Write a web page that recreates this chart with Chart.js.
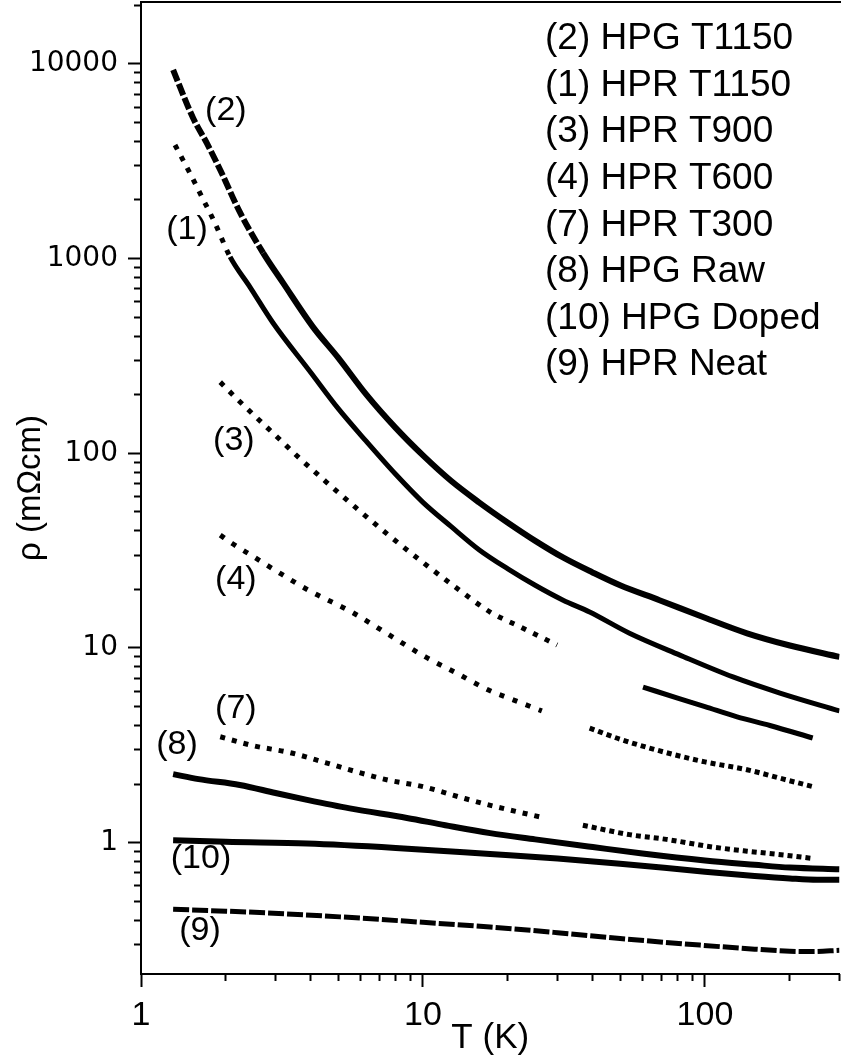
<!DOCTYPE html>
<html><head><meta charset="utf-8">
<script src="https://cdn.jsdelivr.net/npm/chart.js@4.4.1/dist/chart.umd.min.js"></script>
<style>html,body{margin:0;padding:0;background:#fff}#wrap{width:841px;height:1059px}</style>
</head><body><div id="wrap"><canvas id="c" width="841" height="1059"></canvas></div>
<script>
// ---- data (T in K, rho in mOhm cm) ----
const T_HPG1150 = [1.30, 1.53, 1.71, 1.91, 2.24, 2.71, 3.19, 4.07, 5.0, 6.3, 8.0, 10, 12.6, 15.8, 20, 25.1, 31.6, 39.8, 50, 69, 100, 141, 200, 300];
const R_HPG1150 = [9300, 5275, 3925, 2850, 1735, 1070, 750, 446, 310, 200, 135, 97.5, 72, 56, 44, 35.4, 29, 24.5, 21, 17.6, 14.3, 11.9, 10.3, 9.0];

const T_HPR1150 = [1.32, 1.49, 1.645, 1.83, 2.07, 2.435, 2.94, 4.0, 5.0, 6.3, 8.0, 10, 12.6, 15.8, 20, 25, 31.4, 39, 54, 81.5, 125.7, 184.5, 300];
const R_HPR1150 = [3830, 2750, 2070, 1520, 1020, 714, 467, 260, 170, 115, 78, 56, 42, 32, 25.5, 21, 17.6, 15.3, 11.9, 9.19, 7.1, 5.87, 4.75];

const T_HPR900 = [1.91, 2.2, 2.6, 3.1, 3.66, 4.5, 5.74, 7.5, 10, 13, 17.3, 22, 29.9, 45, 60.3, 80, 100, 130, 170, 241];
const R_HPR900 = [232, 189, 150, 118, 94, 72, 53, 38.3, 27.5, 20.6, 15.3, 12.9, 10.35, null, 6.3, 5.53, 5.0, 4.43, 4.0, 3.45];

const T_HPR600 = [1.91, 2.1, 2.5, 3, 4, 5.5, 7.5, 10.2, 13, 17, 21, 26.4, 33, 39, 50, 73, 100, 141, 190, 241];
const R_HPR600 = [38, 34.5, 29.5, 25, 19.5, 15.5, 11.8, 9.0, 7.5, 6.1, 5.4, 4.75, null, 3.88, 3.4, 2.9, 2.6, 2.37, 2.12, 1.94];

const T_HPR300 = [1.91, 2.5, 3.38, 4.5, 5.83, 7.5, 10, 13.8, 16.9, 20, 26.4, 31, 36.9, 54, 73, 106.7, 141, 190, 241];
const R_HPR300 = [3.5, 3.15, 2.9, 2.58, 2.31, 2.1, 1.94, 1.70, 1.57, 1.48, 1.35, null, 1.23, 1.10, 1.04, 0.95, 0.905, 0.865, 0.83];

const T_HPGRaw = [1.3, 1.6, 2.24, 3, 3.88, 5.5, 8.77, 12, 17.3, 25, 40, 60, 100, 150, 200, 300];
const R_HPGRaw = [2.25, 2.12, 1.98, 1.8, 1.66, 1.5, 1.34, 1.23, 1.12, 1.04, 0.95, 0.88, 0.81, 0.77, 0.745, 0.73];

const T_HPGDoped = [1.3, 2, 3.88, 8, 17.3, 30, 50, 100, 150, 200, 250, 300];
const R_HPGDoped = [1.03, 1.01, 0.99, 0.94, 0.875, 0.83, 0.78, 0.71, 0.675, 0.655, 0.645, 0.645];

const T_HPRNeat = [1.3, 2, 2.8, 5.08, 10, 17.3, 30, 50, 96, 150, 200, 240, 300];
const R_HPRNeat = [0.455, 0.445, 0.436, 0.416, 0.39, 0.369, 0.345, 0.322, 0.298, 0.284, 0.277, 0.276, 0.28];

const legendLines = ['(2) HPG T1150', '(1) HPR T1150', '(3) HPR T900', '(4) HPR T600', '(7) HPR T300', '(8) HPG Raw', '(10) HPG Doped', '(9) HPR Neat'];
const curveLabels = ['(2)', '(1)', '(3)', '(4)', '(7)', '(8)', '(10)', '(9)'];
const curveLabelT = [2.0, 1.456, 2.135, 2.17, 2.17, 1.342, 1.632, 1.62];
const curveLabelR = [5730, 1403, 115.7, 22.4, 4.86, 3.18, 0.825, 0.352];

const xMajorTicks = [1, 10, 100];
const xTickLabels = ['1', '10', '100'];
const xMinorTicks = [2, 3, 4, 5, 6, 7, 8, 9, 20, 30, 40, 50, 60, 70, 80, 90, 200, 300];
const yMajorTicks = [1, 10, 100, 1000, 10000];
const yTickLabels = ['1', '10', '100', '1000', '10000'];
const yMinorTicks = [0.3, 0.4, 0.5, 0.6, 0.7, 0.8, 0.9, 2, 3, 4, 5, 6, 7, 8, 9, 20, 30, 40, 50, 60, 70, 80, 90,
  200, 300, 400, 500, 600, 700, 800, 900, 2000, 3000, 4000, 5000, 6000, 7000, 8000, 9000, 20000];

// ---- build ----
function pts(T, R) { return T.map((t, i) => ({ x: t, y: R[i] })); }
function ds(label, T, R, width, dash, segDash) {
  return {
    label, data: pts(T, R), borderColor: '#000', backgroundColor: '#000',
    borderWidth: width, borderDash: dash, borderCapStyle: 'butt',
    pointRadius: 0, pointHoverRadius: 0, fill: false, spanGaps: false,
    cubicInterpolationMode: 'monotone',
    segment: segDash ? { borderDash: segDash } : undefined
  };
}
const datasets = [
  ds(legendLines[0], T_HPG1150, R_HPG1150, 6, [], c => c.p0.parsed.x < 2.3 ? [12, 3] : undefined),
  ds(legendLines[1], T_HPR1150, R_HPR1150, 5, [], c => c.p0.parsed.x < 2.0 ? [5, 8] : undefined),
  ds(legendLines[2], T_HPR900, R_HPR900, 5, [5, 8], c => c.p0.parsed.x > 50 ? [] : undefined),
  ds(legendLines[3], T_HPR600, R_HPR600, 5, [5, 9], c => c.p0.parsed.x > 35 ? [5, 4] : undefined),
  ds(legendLines[4], T_HPR300, R_HPR300, 5, [5, 7], c => c.p0.parsed.x > 35 ? [5, 4] : undefined),
  ds(legendLines[5], T_HPGRaw, R_HPGRaw, 6, []),
  ds(legendLines[6], T_HPGDoped, R_HPGDoped, 6, []),
  ds(legendLines[7], T_HPRNeat, R_HPRNeat, 5, [16, 3])
];

const textPlugin = {
  id: 'texts',
  afterDraw(chart) {
    const ctx = chart.ctx, xs = chart.scales.x, ys = chart.scales.y, a = chart.chartArea;
    ctx.save();
    ctx.strokeStyle = '#000'; ctx.lineWidth = 2;
    ctx.beginPath(); ctx.moveTo(a.left - 1, a.top); ctx.lineTo(chart.width, a.top); ctx.stroke();
    ctx.fillStyle = '#000';
    ctx.font = '34px "Liberation Sans", Arial, sans-serif';
    ctx.textAlign = 'center'; ctx.textBaseline = 'middle';
    curveLabels.forEach((t, i) => ctx.fillText(t, xs.getPixelForValue(curveLabelT[i]), ys.getPixelForValue(curveLabelR[i])));
    ctx.font = '37px "Liberation Sans", Arial, sans-serif';
    ctx.textAlign = 'left';
    legendLines.forEach((t, i) => ctx.fillText(t, 545, 39 + 46.6 * i));
    ctx.restore();
  }
};

function fixBox(size, horiz) {
  return s => {
    if (horiz) s.height = size; else s.width = size;
    s.paddingTop = 0; s.paddingBottom = 0; s.paddingLeft = 0; s.paddingRight = 0;
  };
}

new Chart(document.getElementById('c'), {
  type: 'line',
  data: { datasets },
  plugins: [textPlugin],
  options: {
    responsive: false, animation: false, devicePixelRatio: 1,
    layout: { padding: { top: 2, right: 1.5, left: 0, bottom: 0 } },
    plugins: { legend: { display: false }, tooltip: { enabled: false } },
    scales: {
      x: {
        type: 'logarithmic', position: 'bottom', min: 1, max: 300, weight: 1,
        afterBuildTicks: s => { s.ticks = xMajorTicks.map(v => ({ value: v })); },
        afterFit: fixBox(85, true),
        ticks: { autoSkip: false, maxRotation: 0, padding: 8, color: '#000',
          font: { family: 'Liberation Sans', size: 34 }, callback: (v, i) => xTickLabels[i] },
        grid: { drawOnChartArea: false, tickLength: 13, tickWidth: 2, tickColor: '#000' },
        border: { display: true, color: '#000', width: 2 },
        title: { display: true, text: 'T (K)', color: '#000', font: { family: 'Liberation Sans', size: 35 }, padding: { top: 0, bottom: 0 } }
      },
      xMinor: {
        type: 'logarithmic', position: 'bottom', min: 1, max: 300, weight: 0,
        afterBuildTicks: s => { s.ticks = xMinorTicks.map(v => ({ value: v })); },
        afterFit: fixBox(0, true),
        ticks: { display: false },
        grid: { drawOnChartArea: false, tickLength: 7, tickWidth: 2, tickColor: '#000' },
        border: { display: false }
      },
      y: {
        type: 'logarithmic', position: 'left', min: 0.2117, max: 20780, weight: 1,
        afterBuildTicks: s => { s.ticks = yMajorTicks.map(v => ({ value: v })); },
        afterFit: fixBox(141, false),
        ticks: { autoSkip: false, padding: 10, color: '#000',
          font: { family: 'DejaVu Sans', size: 28 }, callback: (v, i) => yTickLabels[i] },
        grid: { drawOnChartArea: false, tickLength: 13, tickWidth: 2, tickColor: '#000' },
        border: { display: true, color: '#000', width: 2 },
        title: { display: true, text: 'ρ (mΩcm)', color: '#000', font: { family: 'Liberation Sans', size: 33 }, padding: { top: 11, bottom: 0 } }
      },
      yMinor: {
        type: 'logarithmic', position: 'left', min: 0.2117, max: 20780, weight: 0,
        afterBuildTicks: s => { s.ticks = yMinorTicks.map(v => ({ value: v })); },
        afterFit: fixBox(0, false),
        ticks: { display: false },
        grid: { drawOnChartArea: false, tickLength: 7, tickWidth: 2, tickColor: '#000' },
        border: { display: false }
      }
    }
  }
});
</script></body></html>
